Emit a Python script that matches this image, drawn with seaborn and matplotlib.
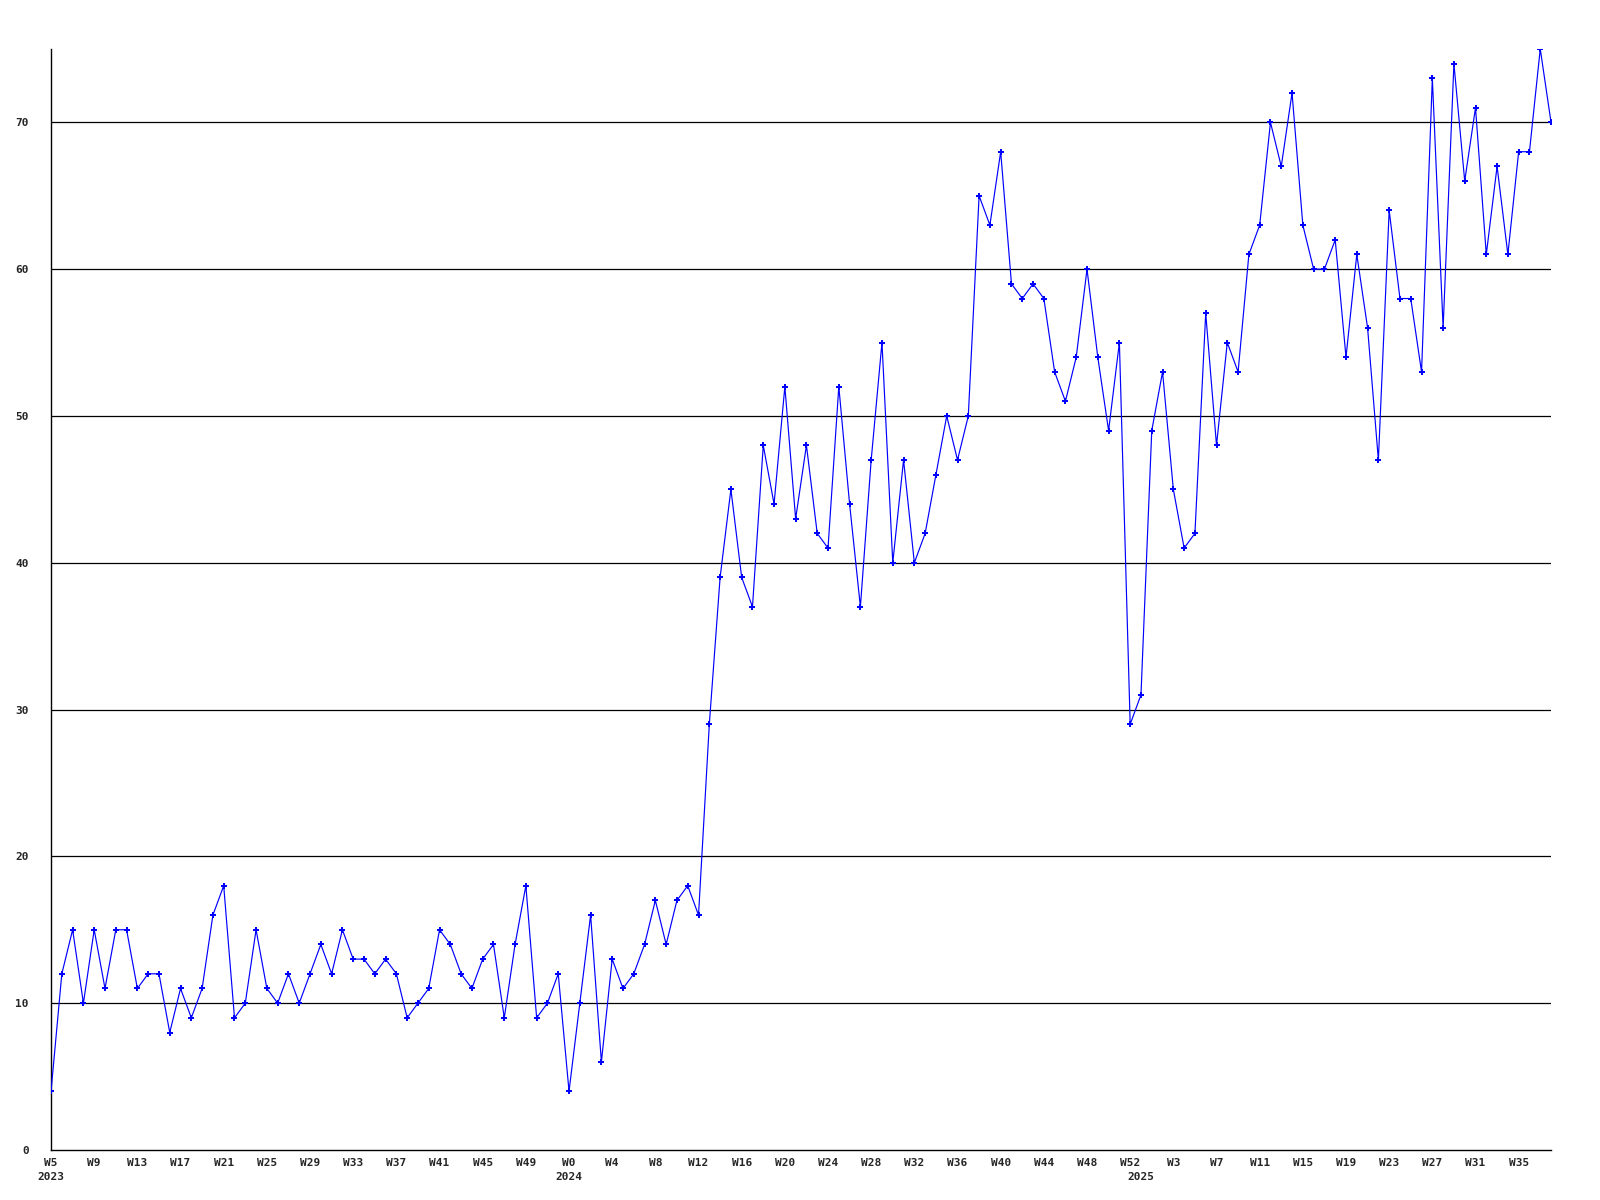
import pandas as pd
import matplotlib
matplotlib.use("Agg")
import matplotlib.pyplot as plt
import matplotlib.transforms as mtransforms
import seaborn as sns

# Weekly counts
weeks_2023 = list(range(5, 53))
values_2023 = [4, 12, 15, 10, 15, 11, 15, 15, 11, 12,
               12, 8, 11, 9, 11, 16, 18, 9, 10, 15,
               11, 10, 12, 10, 12, 14, 12, 15, 13, 13,
               12, 13, 12, 9, 10, 11, 15, 14, 12, 11,
               13, 14, 9, 14, 18, 9, 10, 12]
weeks_2024 = list(range(0, 53))
values_2024 = [4, 10, 16, 6, 13, 11, 12, 14, 17, 14,
               17, 18, 16, 29, 39, 45, 39, 37, 48, 44,
               52, 43, 48, 42, 41, 52, 44, 37, 47, 55,
               40, 47, 40, 42, 46, 50, 47, 50, 65, 63,
               68, 59, 58, 59, 58, 53, 51, 54, 60, 54,
               49, 55, 29]
weeks_2025 = list(range(0, 39))
values_2025 = [31, 49, 53, 45, 41, 42, 57, 48, 55, 53,
               61, 63, 70, 67, 72, 63, 60, 60, 62, 54,
               61, 56, 47, 64, 58, 58, 53, 73, 56, 74,
               66, 71, 61, 67, 61, 68, 68, 75, 70]
y_ticks = [0, 10, 20, 30, 40, 50, 60, 70]

rows = []
for year, weeks, vals in [(2023, weeks_2023, values_2023),
                          (2024, weeks_2024, values_2024),
                          (2025, weeks_2025, values_2025)]:
    for w, v in zip(weeks, vals):
        rows.append({"year": year, "week": w, "count": v})
df = pd.DataFrame(rows)
df["idx"] = range(len(df))
df["label"] = "W" + df["week"].astype(str)

sns.set_style("white")
plt.rcParams["font.family"] = ["DejaVu Sans Mono"]

fig = plt.figure(figsize=(16, 12), dpi=100)
ax = fig.add_axes([0.0319, 0.0417, 0.9375, 0.9175])

for t in y_ticks[1:]:
    ax.axhline(t, color="black", linewidth=0.9, zorder=1)

sns.lineplot(data=df, x="idx", y="count", ax=ax, color="#0000ff",
             linewidth=0.85, marker="P", markersize=4.5,
             markeredgewidth=0, zorder=3)

ax.set_xlim(df["idx"].min(), df["idx"].max())
ax.set_ylim(0, 75)
ax.set_yticks(y_ticks)
ax.set_yticklabels([str(t) for t in y_ticks], fontsize=8, fontweight="bold")

tick_idx = df["idx"][::4]
ax.set_xticks(tick_idx)
ax.set_xticklabels(df["label"][::4], fontsize=8, fontweight="bold")
ax.tick_params(axis="both", length=0)
ax.tick_params(axis="x", pad=6)
ax.tick_params(axis="y", pad=16)

# year labels under the first week of each year
trans = mtransforms.blended_transform_factory(ax.transData, ax.transAxes)
for year, grp in df.groupby("year"):
    ax.text(grp["idx"].iloc[0], -0.0245, str(year), transform=trans,
            ha="center", va="center", fontsize=8, fontweight="bold")

ax.set_xlabel("")
ax.set_ylabel("")
for side in ["top", "right"]:
    ax.spines[side].set_visible(False)
for side in ["left", "bottom"]:
    ax.spines[side].set_color("black")
    ax.spines[side].set_linewidth(1.0)

fig.savefig("out.png", dpi=100, facecolor="white")
